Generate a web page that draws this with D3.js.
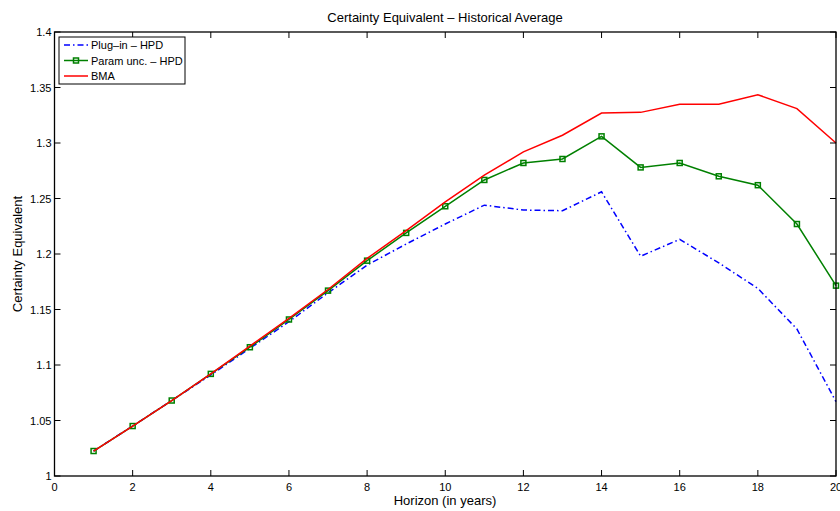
<!DOCTYPE html>
<html>
<head>
<meta charset="utf-8">
<script src="https://cdn.jsdelivr.net/npm/d3@7"></script>
<style>
  body { margin: 0; background: #fff; }
  svg text { font-family: "Liberation Sans", Arial, Helvetica, sans-serif; fill: #000; }
</style>
</head>
<body>
<svg id="chart" width="840" height="511"></svg>
<script>
// horizon in years
var horizons = [1, 2, 3, 4, 5, 6, 7, 8, 9, 10, 11, 12, 13, 14, 15, 16, 17, 18, 19, 20];

var plugIn = [1.0225, 1.045, 1.068, 1.091, 1.115, 1.139, 1.165, 1.190, 1.209, 1.227,
              1.244, 1.2396, 1.239, 1.256, 1.198, 1.2132, 1.192, 1.169, 1.1324, 1.067];
var paramUnc = [1.0225, 1.045, 1.068, 1.092, 1.116, 1.141, 1.167, 1.194, 1.219, 1.243,
                1.2667, 1.282, 1.2856, 1.306, 1.278, 1.282, 1.270, 1.262, 1.227, 1.1715];
var bma = [1.0225, 1.045, 1.068, 1.092, 1.117, 1.142, 1.168, 1.196, 1.221, 1.247,
           1.271, 1.292, 1.307, 1.327, 1.3276, 1.335, 1.335, 1.3435, 1.331, 1.300];

var xTicks = [0, 2, 4, 6, 8, 10, 12, 14, 16, 18, 20];
var yTicks = [1, 1.05, 1.1, 1.15, 1.2, 1.25, 1.3, 1.35, 1.4];
var yTickLabels = ["1", "1.05", "1.1", "1.15", "1.2", "1.25", "1.3", "1.35", "1.4"];

var series = [
    { name: "Plug\u2013in \u2013 HPD", values: plugIn, color: "#0000ff", dash: "6,3,1.5,3", marker: false },
    { name: "Param unc. \u2013 HPD", values: paramUnc, color: "#008000", dash: null, marker: true },
    { name: "BMA", values: bma, color: "#ff0000", dash: null, marker: false }
];

var svg = d3.select("#chart");
var plotL = 54.5, plotR = 836, plotT = 32, plotB = 476;

var x = d3.scaleLinear().domain([0, 20]).range([plotL, plotR]);
var y = d3.scaleLinear().domain([1, 1.4]).range([plotB, plotT]);

// lines
var line = d3.line()
    .x(function (d, i) { return x(horizons[i]); })
    .y(function (d) { return y(d); });

series.forEach(function (s) {
    svg.append("path")
        .datum(s.values)
        .attr("d", line)
        .attr("fill", "none")
        .attr("stroke", s.color)
        .attr("stroke-width", 1.5)
        .attr("stroke-dasharray", s.dash);
    if (s.marker) {
        svg.selectAll(".mk").data(s.values).enter().append("rect")
            .attr("x", function (d, i) { return x(horizons[i]) - 2.5; })
            .attr("y", function (d) { return y(d) - 2.5; })
            .attr("width", 5).attr("height", 5)
            .attr("fill", "none").attr("stroke", s.color).attr("stroke-width", 1.5);
    }
});

// box
svg.append("rect")
    .attr("x", plotL).attr("y", plotT)
    .attr("width", plotR - plotL).attr("height", plotB - plotT)
    .attr("fill", "none").attr("stroke", "#000").attr("stroke-width", 1.3);

// inward ticks on all sides
var tickLen = 6;
xTicks.forEach(function (t) {
    svg.append("line").attr("x1", x(t)).attr("x2", x(t))
        .attr("y1", plotB).attr("y2", plotB - tickLen)
        .attr("stroke", "#000").attr("stroke-width", 1);
    svg.append("line").attr("x1", x(t)).attr("x2", x(t))
        .attr("y1", plotT).attr("y2", plotT + tickLen)
        .attr("stroke", "#000").attr("stroke-width", 1);
    svg.append("text").attr("x", x(t)).attr("y", plotB + 15)
        .attr("text-anchor", "middle").attr("font-size", 11)
        .text(t);
});
yTicks.forEach(function (t, i) {
    svg.append("line").attr("x1", plotL).attr("x2", plotL + tickLen)
        .attr("y1", y(t)).attr("y2", y(t))
        .attr("stroke", "#000").attr("stroke-width", 1);
    svg.append("line").attr("x1", plotR).attr("x2", plotR - tickLen)
        .attr("y1", y(t)).attr("y2", y(t))
        .attr("stroke", "#000").attr("stroke-width", 1);
    svg.append("text").attr("x", plotL - 3).attr("y", y(t) + 4)
        .attr("text-anchor", "end").attr("font-size", 11)
        .text(yTickLabels[i]);
});

// title and labels
svg.append("text").attr("x", 445).attr("y", 22)
    .attr("text-anchor", "middle").attr("font-size", 13)
    .text("Certainty Equivalent \u2013 Historical Average");
svg.append("text").attr("x", 445).attr("y", 505)
    .attr("text-anchor", "middle").attr("font-size", 13)
    .text("Horizon (in years)");
svg.append("text")
    .attr("transform", "translate(22," + ((plotT + plotB) / 2) + ") rotate(-90)")
    .attr("text-anchor", "middle").attr("font-size", 13)
    .text("Certainty Equivalent");

// legend
var lg = svg.append("g").attr("transform", "translate(59,37)");
lg.append("rect").attr("width", 126).attr("height", 47)
    .attr("fill", "#fff").attr("stroke", "#000").attr("stroke-width", 1);
series.forEach(function (s, i) {
    var ly = 8 + i * 15.5;
    lg.append("line").attr("x1", 5).attr("x2", 29)
        .attr("y1", ly).attr("y2", ly)
        .attr("stroke", s.color).attr("stroke-width", 1.5)
        .attr("stroke-dasharray", s.dash);
    if (s.marker) {
        lg.append("rect").attr("x", 14.5).attr("y", ly - 2.5)
            .attr("width", 5).attr("height", 5)
            .attr("fill", "none").attr("stroke", s.color).attr("stroke-width", 1.5);
    }
    lg.append("text").attr("x", 32).attr("y", ly + 4)
        .attr("font-size", 11).text(s.name);
});
</script>
</body>
</html>
